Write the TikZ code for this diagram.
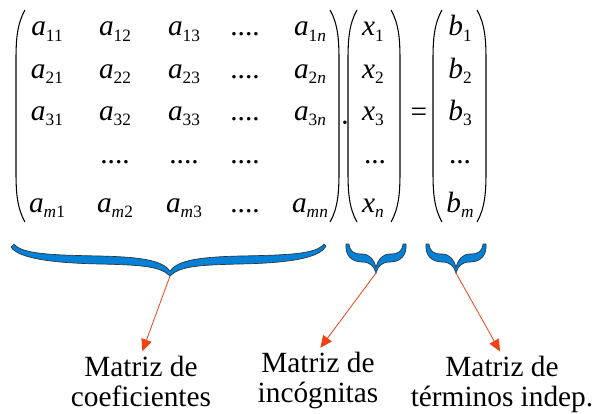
\documentclass[tikz,border=0pt]{standalone}
\usepackage{fontspec}
\setmainfont{Liberation Serif}
\usetikzlibrary{arrows.meta}
\definecolor{azul}{RGB}{0,128,215}
\definecolor{naranja}{RGB}{238,68,20}
% entrada con subindice
\newcommand{\ent}[2]{\textit{#1}\raisebox{-4pt}{\fontsize{13}{13}\selectfont #2}}

\begin{document}
\begin{tikzpicture}[x=0.75pt, y=-0.75pt,
  every node/.style={font=\fontsize{22}{26}\selectfont, inner sep=0pt, anchor=base},
  etiq/.style={font=\fontsize{22}{22}\selectfont, align=center, anchor=north, inner sep=1pt},
  paren/.style={line width=0.8pt},
  llave/.style={fill=azul, draw=black!80, line width=0.5pt},
  flecha/.style={draw=naranja, line width=0.6pt, -{Triangle[length=9pt,width=8pt]}, shorten >=3pt}]
\useasboundingbox (0,0) rectangle (593,414);

% matriz de coeficientes
\node (a11) at (47,36) {\ent{a}{11}};
\node (a12) at (115,36) {\ent{a}{12}};
\node (a13) at (184,36) {\ent{a}{13}};
\node (p1) at (245,36) {....};
\node (a1n) at (310,36) {\ent{a}{1\textit{n}}};
\node (a21) at (47,78) {\ent{a}{21}};
\node (a22) at (115,78) {\ent{a}{22}};
\node (a23) at (184,78) {\ent{a}{23}};
\node (p2) at (245,78) {....};
\node (a2n) at (310,78) {\ent{a}{2\textit{n}}};
\node (a31) at (47,120) {\ent{a}{31}};
\node (a32) at (115,120) {\ent{a}{32}};
\node (a33) at (184,120) {\ent{a}{33}};
\node (p3) at (245,120) {....};
\node (a3n) at (310,120) {\ent{a}{3\textit{n}}};
\node (q2) at (115,163) {....};
\node (q3) at (184,163) {....};
\node (q4) at (245,163) {....};
\node (am1) at (47,212) {\ent{a}{\textit{m}1}};
\node (am2) at (115,212) {\ent{a}{\textit{m}2}};
\node (am3) at (184,212) {\ent{a}{\textit{m}3}};
\node (p5) at (245,212) {....};
\node (amn) at (310,212) {\ent{a}{\textit{mn}}};
\draw[paren] (25,10) .. controls (17,24) and (16,40) .. (16,60) -- (16,172) .. controls (16,192) and (17,208) .. (25,222);
\draw[paren] (330,10) .. controls (338,24) and (339,40) .. (339,60) -- (339,172) .. controls (339,192) and (338,208) .. (330,222);

\node[anchor=center] (por) at (345,127) {·};

% incognitas
\node (x1) at (373,36) {\ent{x}{1}};
\node (x2) at (373,78) {\ent{x}{2}};
\node (x3) at (373,120) {\ent{x}{3}};
\node (xp) at (375,163) {...};
\node (xn) at (373,212) {\ent{x}{\textit{n}}};
\draw[paren] (357,10) .. controls (349,24) and (348,40) .. (348,60) -- (348,172) .. controls (348,192) and (349,208) .. (357,222);
\draw[paren] (391,10) .. controls (399,24) and (400,40) .. (400,60) -- (400,172) .. controls (400,192) and (399,208) .. (391,222);

\node[anchor=center] (igual) at (419,115) {=};

% terminos independientes
\node (b1) at (460,36) {\ent{b}{1}};
\node (b2) at (460,78) {\ent{b}{2}};
\node (b3) at (460,120) {\ent{b}{3}};
\node (bp) at (460,163) {...};
\node (bm) at (460,212) {\ent{b}{\textit{m}}};
\draw[paren] (442,10) .. controls (434,24) and (433,40) .. (433,60) -- (433,172) .. controls (433,192) and (434,208) .. (442,222);
\draw[paren] (477,10) .. controls (485,24) and (486,40) .. (486,60) -- (486,172) .. controls (486,192) and (485,208) .. (477,222);

% llaves
\filldraw[llave] (14,244) .. controls (22,254) and (50,255) .. (100,256)
  .. controls (140,257) and (162,260) .. (170,271)
  .. controls (178,260) and (200,257) .. (240,256)
  .. controls (290,255) and (316,254) .. (324,244)
  -- (326,246) .. controls (320,258) and (290,263) .. (240,264)
  .. controls (200,265) and (180,266) .. (170,276)
  .. controls (160,266) and (140,265) .. (100,264)
  .. controls (50,263) and (18,258) .. (11,247) -- cycle;
\foreach \c in {376,456} {
  \begin{scope}[shift={(\c,0)}]
  \filldraw[llave] (-30,244) -- (-27,244) .. controls (-26,252) and (-22,254) .. (-14,254)
    .. controls (-6,254) and (-2,260) .. (0,267)
    .. controls (2,260) and (6,254) .. (14,254)
    .. controls (22,254) and (26,252) .. (27,244) -- (30,244)
    .. controls (31,256) and (24,262) .. (14,262)
    .. controls (6,262) and (2,266) .. (0,273)
    .. controls (-2,266) and (-6,262) .. (-14,262)
    .. controls (-24,262) and (-31,256) .. (-30,244) -- cycle;
  \end{scope}
}
\coordinate (puntaA) at (170,276);
\coordinate (puntaX) at (376,273);
\coordinate (puntaB) at (456,273);

% etiquetas
\node[etiq] (coef) at (141,355) {Matriz de\\coeficientes};
\node[etiq] (incog) at (318,351) {Matriz de\\incógnitas};
\node[etiq] (indep) at (502,355) {Matriz de\\términos indep.};

\draw[flecha] (puntaA) -- (coef.north);
\draw[flecha] (puntaX) -- (incog.north);
\draw[flecha] (puntaB) -- (indep.north);
\end{tikzpicture}
\end{document}
